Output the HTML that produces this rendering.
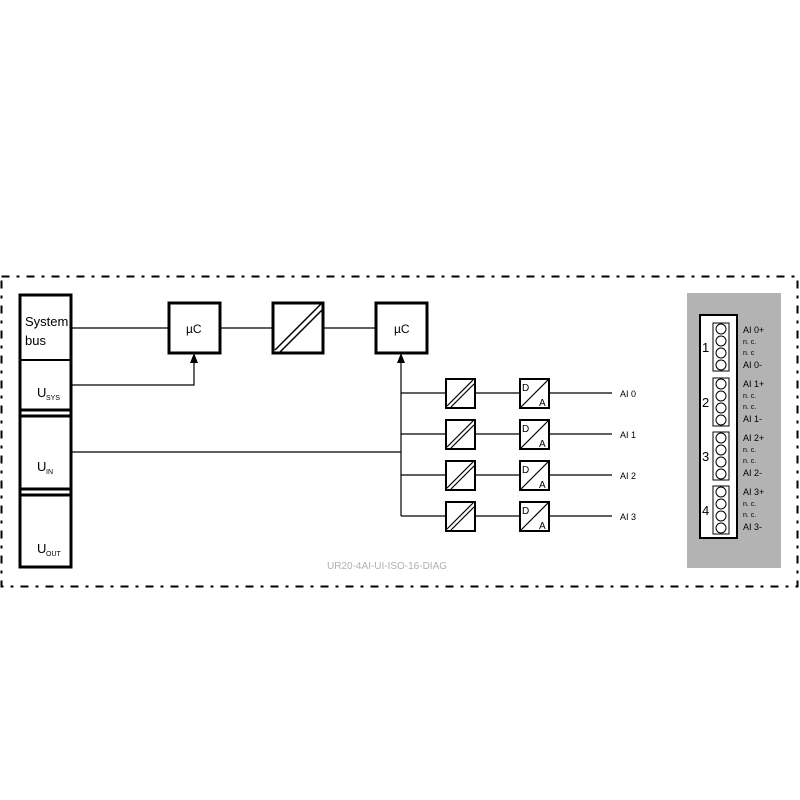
<!DOCTYPE html>
<html><head><style>body{margin:0;background:#fff}svg{display:block}text{font-family:"Liberation Sans",sans-serif}</style></head><body>
<svg width="800" height="800" viewBox="0 0 800 800" xmlns="http://www.w3.org/2000/svg">
<rect x="1.5" y="276.5" width="796" height="310" fill="none" stroke="#000" stroke-width="2" stroke-dasharray="8 7 3 7"/>
<g fill="none" stroke="#000">
<rect x="20" y="295" width="51" height="272" stroke-width="3"/>
<line x1="20" y1="360" x2="71" y2="360" stroke-width="2"/>
<line x1="20" y1="410" x2="71" y2="410" stroke-width="3"/>
<line x1="20" y1="416" x2="71" y2="416" stroke-width="3"/>
<line x1="20" y1="489" x2="71" y2="489" stroke-width="3"/>
<line x1="20" y1="495" x2="71" y2="495" stroke-width="3"/>
<g stroke-width="3">
<rect x="169" y="303" width="51" height="50"/>
<rect x="273" y="303" width="50" height="50"/>
<rect x="376" y="303" width="51" height="50"/>
</g>
<line x1="275" y1="350" x2="321" y2="304" stroke-width="1.5"/>
<line x1="280" y1="352" x2="322" y2="310" stroke-width="1.5"/>
<g stroke-width="1.2">
<line x1="71" y1="328" x2="169" y2="328"/>
<line x1="220" y1="328" x2="273" y2="328"/>
<line x1="323" y1="328" x2="376" y2="328"/>
<polyline points="71,385 194,385 194,360"/>
<line x1="71" y1="452" x2="401" y2="452"/>
<line x1="401" y1="360" x2="401" y2="516"/>
</g>
</g>
<polygon points="194,353 190,363 198,363" fill="#000"/>
<polygon points="401,353 397,363 405,363" fill="#000"/>
<g font-size="13" fill="#000">
<text x="25" y="326">System</text><text x="25" y="345">bus</text>
<text x="37" y="397">U</text><text x="46" y="400" font-size="7">SYS</text>
<text x="37" y="471">U</text><text x="46" y="474" font-size="7">IN</text>
<text x="37" y="553">U</text><text x="46" y="556" font-size="7">OUT</text>
<text x="186" y="333" font-size="12">µC</text>
<text x="394" y="333" font-size="12">µC</text>
</g>
<g id="r0">
<g fill="none" stroke="#000">
<line x1="401" y1="393" x2="446" y2="393" stroke-width="1.2"/>
<line x1="475" y1="393" x2="520" y2="393" stroke-width="1.2"/>
<line x1="549" y1="393" x2="612" y2="393" stroke-width="1.2"/>
<rect x="446" y="379" width="29" height="29" stroke-width="2"/>
<line x1="447" y1="406" x2="473" y2="380" stroke-width="1.2"/>
<line x1="451" y1="407" x2="474" y2="384" stroke-width="1.2"/>
<rect x="520" y="379" width="29" height="29" stroke-width="2"/>
<line x1="521" y1="407" x2="548" y2="380" stroke-width="1.2"/>
</g>
<text x="522" y="391" font-size="10">D</text><text x="539" y="406" font-size="10">A</text>
</g>
<use href="#r0" y="41"/><use href="#r0" y="82"/><use href="#r0" y="123"/>
<g font-size="9"><text x="620" y="397">AI 0</text><text x="620" y="438">AI 1</text><text x="620" y="479">AI 2</text><text x="620" y="520">AI 3</text></g>
<text x="327" y="569" font-size="10" fill="#b0b0b0">UR20-4AI-UI-ISO-16-DIAG</text>
<rect x="687" y="293" width="94" height="275" fill="#b3b3b3"/>
<rect x="700" y="315" width="37" height="223" fill="#fff" stroke="#000" stroke-width="2"/>
<g id="c0">
<rect x="713" y="323" width="16" height="48" fill="#fff" stroke="#000" stroke-width="1"/>
<g fill="#fff" stroke="#000" stroke-width="1"><circle cx="721" cy="329" r="5"/><circle cx="721" cy="341" r="5"/><circle cx="721" cy="353" r="5"/><circle cx="721" cy="365" r="5"/></g>
</g>
<use href="#c0" y="55"/><use href="#c0" y="109"/><use href="#c0" y="163"/>
<g font-size="13"><text x="702" y="352">1</text><text x="702" y="407">2</text><text x="702" y="461">3</text><text x="702" y="515">4</text></g>
<g font-size="9">
<text x="743" y="333">AI 0+</text><text x="743" y="344" font-size="7">n. c.</text><text x="743" y="355" font-size="7">n. c</text><text x="743" y="368">AI 0-</text>
<text x="743" y="387">AI 1+</text><text x="743" y="398" font-size="7">n. c.</text><text x="743" y="409" font-size="7">n. c.</text><text x="743" y="422">AI 1-</text>
<text x="743" y="441">AI 2+</text><text x="743" y="452" font-size="7">n. c.</text><text x="743" y="463" font-size="7">n. c.</text><text x="743" y="476">AI 2-</text>
<text x="743" y="495">AI 3+</text><text x="743" y="506" font-size="7">n. c.</text><text x="743" y="517" font-size="7">n. c.</text><text x="743" y="530">AI 3-</text>
</g>
</svg>
</body></html>
